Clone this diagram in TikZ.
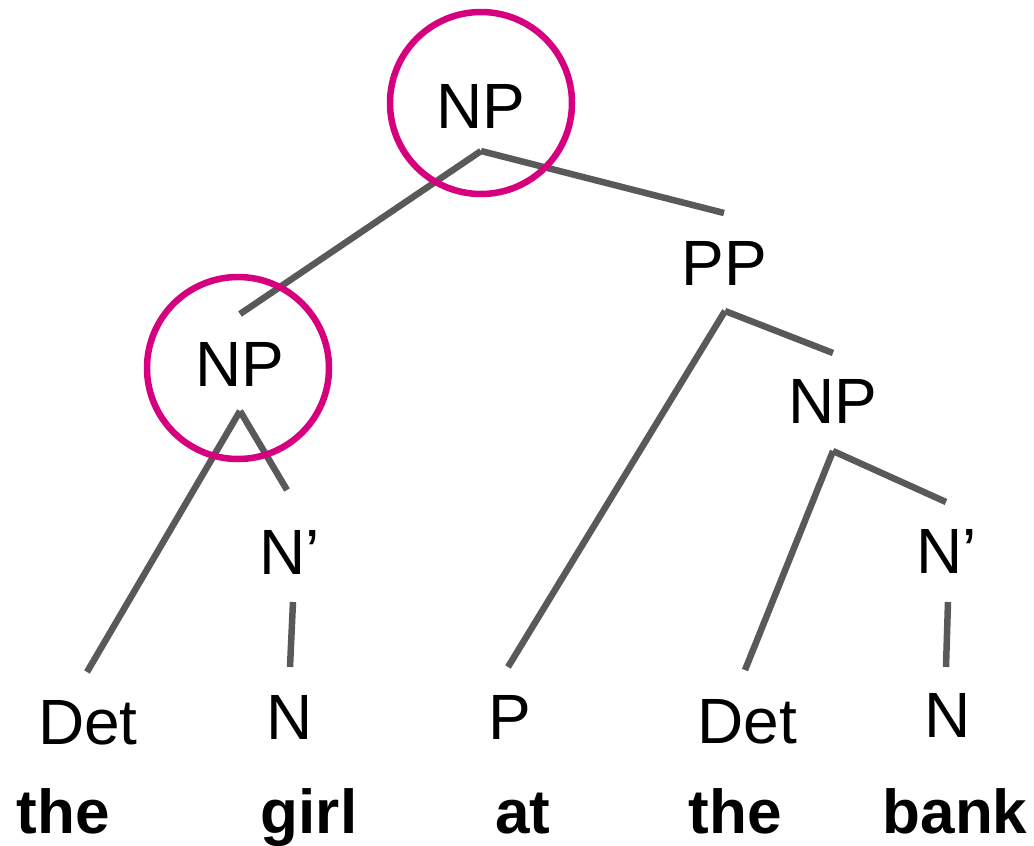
\documentclass[tikz,border=0pt]{standalone}
\usepackage{fontspec}
\setmainfont{Liberation Sans}
\definecolor{branch}{RGB}{89,89,89}
\definecolor{ring}{RGB}{214,0,127}
\begin{document}
\begin{tikzpicture}[x=1pt,y=-1pt,
  lab/.style={anchor=base,inner sep=0pt,font=\fontsize{64}{70}\selectfont},
  word/.style={anchor=base,inner sep=0pt,font=\fontsize{62}{70}\selectfont\bfseries},
  edge/.style={draw=branch,line width=6.5pt},
  hilite/.style={draw=ring,line width=6.5pt}]
\useasboundingbox (0,0) rectangle (1034,846);

% category labels
\node[lab] (np0) at (481,128) {NP};
\node[lab] (pp)  at (724,285) {PP};
\node[lab] (np1) at (240,386) {NP};
\node[lab] (np2) at (833,423) {NP};
\node[lab] (nb1) at (290,574) {N'};
\node[lab] (nb2) at (947,573) {N'};
\node[lab] (det1) at (88,744) {Det};
\node[lab] (n1)   at (290,739) {N};
\node[lab] (p)    at (510,739) {P};
\node[lab] (det2) at (747,743) {Det};
\node[lab] (n2)   at (948,737) {N};

% words
\node[word] (w1) at (63,833) {the};
\node[word] (w2) at (309,833) {girl};
\node[word] (w3) at (523,833) {at};
\node[word] (w4) at (735,833) {the};
\node[word] (w5) at (955,833) {bank};

% branch end points
\coordinate (np0b) at (481,151);
\coordinate (np1t) at (240,314);
\coordinate (ppt)  at (724,213);
\coordinate (ppb)  at (725,311);
\coordinate (np2t) at (833,353);
\coordinate (pt)   at (508,667);
\coordinate (np1b) at (240,411);
\coordinate (det1t) at (87,672);
\coordinate (nb1t) at (287,490);
\coordinate (nb1b) at (293,602);
\coordinate (n1t)  at (290,667);
\coordinate (np2b) at (833,451);
\coordinate (det2t) at (745,670);
\coordinate (nb2t) at (946,502);
\coordinate (nb2b) at (948,602);
\coordinate (n2t)  at (946,667);

% branches
\draw[edge] (np0b) -- (np1t);
\draw[edge] (np0b) -- (ppt);
\draw[edge] (ppb) -- (pt);
\draw[edge] (ppb) -- (np2t);
\draw[edge] (np1b) -- (det1t);
\draw[edge] (np1b) -- (nb1t);
\draw[edge] (nb1b) -- (n1t);
\draw[edge] (np2b) -- (det2t);
\draw[edge] (np2b) -- (nb2t);
\draw[edge] (nb2b) -- (n2t);

% highlighted NP nodes
\draw[hilite] (481,103) circle[radius=91];
\draw[hilite] (238,368) circle[radius=91];
\end{tikzpicture}
\end{document}
